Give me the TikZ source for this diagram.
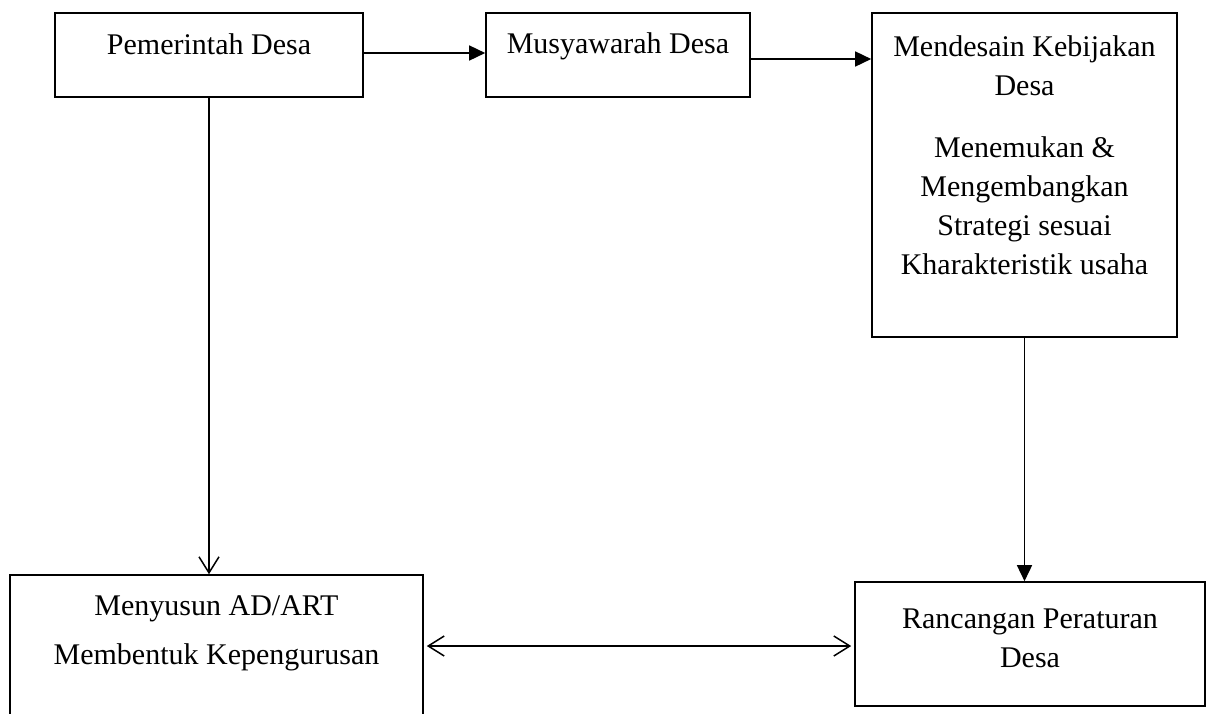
\documentclass[tikz,border=0pt]{standalone}
\usepackage{fontspec}
\setmainfont{Liberation Serif}
\usepackage{tikz}
\usetikzlibrary{arrows.meta, positioning, calc}

\tikzset{
    box/.style={draw, line width=1.6pt, rectangle, inner sep=0pt},
    boxtext/.style={font=\fontsize{30}{39}\selectfont, align=center, anchor=north, inner sep=0pt},
    fullarrow/.style={line width=1.5pt, -{Triangle[length=16pt, width=15pt]}},
    openarrow/.style={line width=1.5pt, -{Straight Barb[length=16pt, width=20pt, line width=1.5pt]}},
    bothopen/.style={line width=1.5pt, {Straight Barb[length=16pt, width=20pt, line width=1.5pt]}-{Straight Barb[length=16pt, width=20pt, line width=1.5pt]}}
}

\begin{document}
\begin{tikzpicture}[x=1pt, y=-1pt]
    \useasboundingbox (0,0) rectangle (1207,713);
    \clip (0,0) rectangle (1207,713);

    % boxes
    \node[box, minimum width=308pt, minimum height=84pt] (pemdes) at (209,55) {};
    \node[box, minimum width=264pt, minimum height=84pt] (musdes) at (618,55) {};
    \node[box, minimum width=305pt, minimum height=324pt] (kebijakan) at (1024.5,175) {};
    \node[box, minimum width=413pt, minimum height=142pt] (adart) at (216.5,646) {};
    \node[box, minimum width=350pt, minimum height=124pt] (raperdes) at (1030,644) {};

    % texts
    \node[boxtext] (pemdestext) at ([yshift=-21.5pt]pemdes.north) {Pemerintah Desa};
    \node[boxtext] (musdestext) at ([yshift=-20.5pt]musdes.north) {Musyawarah Desa};
    \node[boxtext] (kebijakantext) at ([yshift=-23.5pt]kebijakan.north) {Mendesain Kebijakan\\Desa\\[23pt]Menemukan \&\\Mengembangkan\\Strategi sesuai\\Kharakteristik usaha};
    \node[boxtext] (adarttext) at ([yshift=-21.5pt]adart.north) {Menyusun AD/ART\\[10pt]Membentuk Kepengurusan};
    \node[boxtext] (raperdestext) at ([yshift=-27.5pt]raperdes.north) {Rancangan Peraturan\\Desa};

    % connectors
    \draw[fullarrow] ([yshift=2pt]pemdes.east) -- ([yshift=2pt]musdes.west);
    \draw[fullarrow] ([yshift=-4pt]musdes.east) -- ([yshift=-4pt]musdes.east -| kebijakan.west);
    \draw[openarrow] (pemdes.south) -- (pemdes.south |- adart.north);
    \draw[fullarrow] (kebijakan.south) -- (kebijakan.south |- raperdes.north);
    \draw[bothopen, shorten <=3pt, shorten >=3pt] (adart.east) -- (adart.east -| raperdes.west);
\end{tikzpicture}
\end{document}
